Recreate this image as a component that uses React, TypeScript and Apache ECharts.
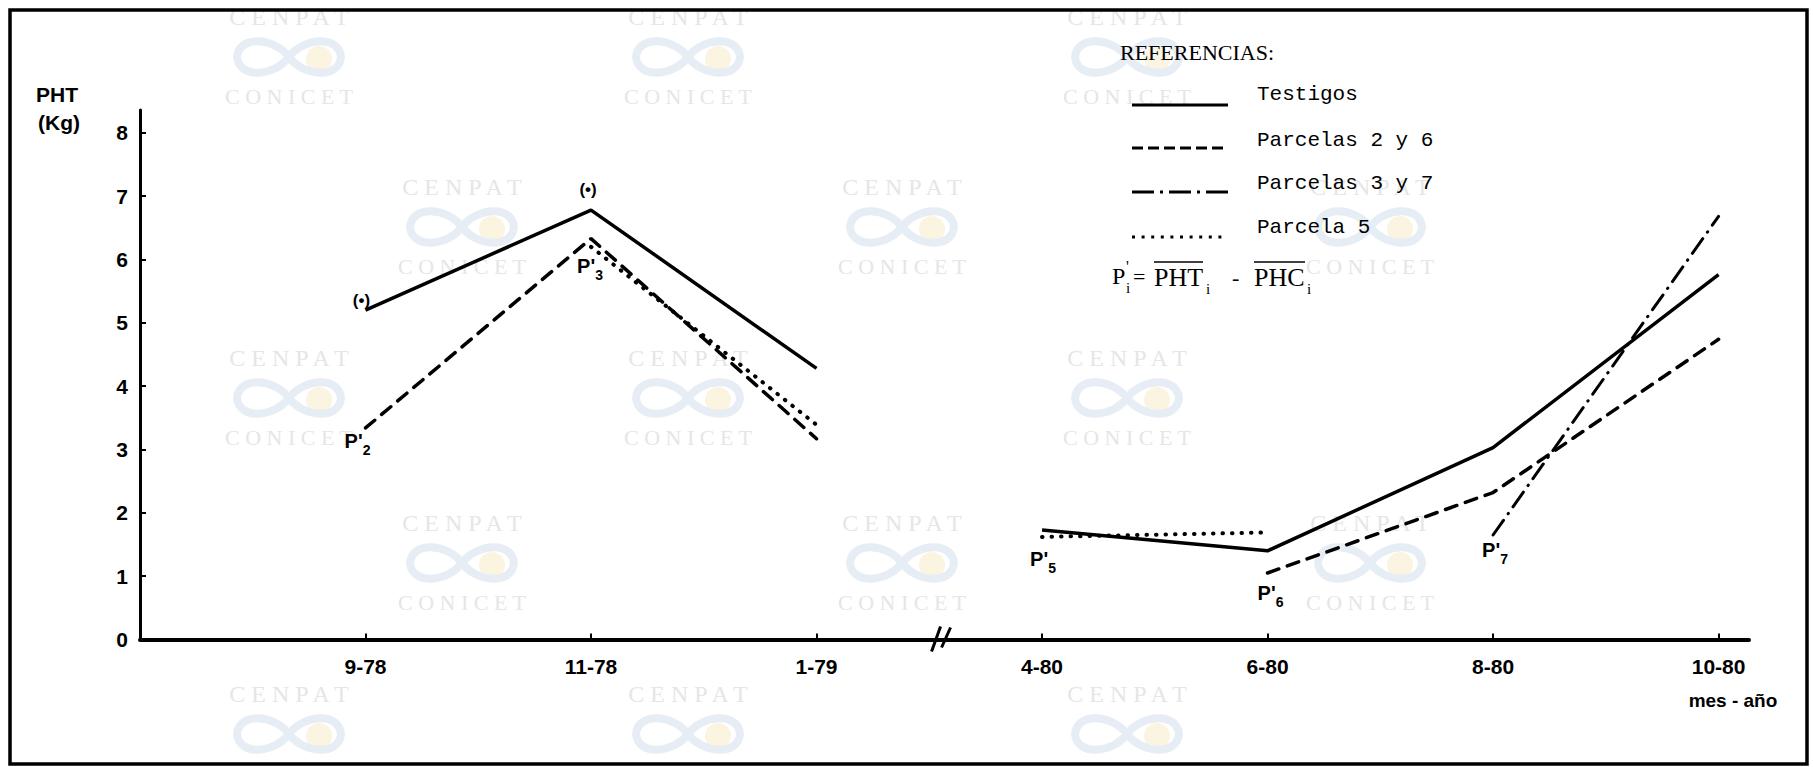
import React, { useEffect, useRef } from 'react';
import * as echarts from 'echarts';

// ---------- data ----------
const categories = ['9-78', '11-78', '1-79', '4-80', '6-80', '8-80', '10-80'];
const yTickValues = [0, 1, 2, 3, 4, 5, 6, 7, 8];
const breakAfter = 2; // axis break between 1-79 and 4-80
const seriesNames = ['Testigos', 'Parcelas 2 y 6', 'Parcelas 3 y 7', 'Parcela 5'];
const testigos = [5.2, 6.78, 4.28, 1.73, 1.4, 3.03, 5.76];
const parcelas2y6 = [3.34, 6.33, 3.17, null, 1.05, 2.32, 4.74];
const parcelas3y7 = [null, null, null, null, null, 1.65, 6.68];
const parcela5 = [null, 6.2, 3.39, 1.62, 1.69, null, null];
const seriesValues = [testigos, parcelas2y6, parcelas3y7, parcela5];

// point annotations (series index, category index, text)
const pointNotes = [
  { series: 0, index: 0, text: '{d|(•)}', position: 'top', distance: 1, offset: [-4, 0] },
  { series: 0, index: 1, text: '{d|(•)}', position: 'top', distance: 12, offset: [-3, 0] },
  { series: 1, index: 0, text: "{p|P'}{s|2}", position: 'bottom', distance: 3, offset: [-8, 0] },
  { series: 1, index: 1, text: "{p|P'}{s|3}", position: 'bottom', distance: 17, offset: [-1, 0] },
  { series: 3, index: 3, text: "{p|P'}{s|5}", position: 'bottom', distance: 12, offset: [1, 0] },
  { series: 1, index: 4, text: "{p|P'}{s|6}", position: 'bottom', distance: 10, offset: [3, 0] },
  { series: 2, index: 5, text: "{p|P'}{s|7}", position: 'bottom', distance: 5, offset: [2, 0] },
];

const SANS = '"Liberation Sans", Arial, sans-serif';
const SERIF = '"Liberation Serif", "Times New Roman", serif';
const MONO = '"Liberation Mono", "Courier New", monospace';

const rich = {
  d: { fontSize: 17, fontWeight: 'bold', fontFamily: SANS, color: '#000' },
  p: { fontSize: 20, fontWeight: 'bold', fontFamily: SANS, color: '#000', lineHeight: 20, verticalAlign: 'top' },
  s: { fontSize: 14, fontWeight: 'bold', fontFamily: SANS, color: '#000', lineHeight: 14, padding: [12, 0, 0, 0], verticalAlign: 'top' },
};

const lineStyles: any[] = [
  { type: 'solid', width: 3.5 },
  { type: [12, 9], width: 3.5, cap: 'round' },
  { type: [18, 8, 0.5, 8], width: 3, cap: 'round' },
  { type: [0.5, 9], width: 4, cap: 'round' },
];

function buildData(values: (number | null)[], sIdx: number) {
  const out: any[] = [];
  values.forEach((v, i) => {
    if (i === breakAfter + 1) out.push({ value: [breakAfter + 0.5, null] });
    const item: any = { value: [i, v] };
    const note = pointNotes.find((n) => n.series === sIdx && n.index === i);
    if (note && v != null) {
      item.label = {
        show: true,
        formatter: note.text,
        position: note.position,
        distance: note.distance,
        offset: note.offset,
        rich,
      };
    }
    out.push(item);
  });
  return out;
}

// watermark grid
const wmRows = [
  { top: 17, cols: [289, 688, 1127] },
  { top: 187, cols: [462, 902, 1370] },
  { top: 358, cols: [289, 688, 1127] },
  { top: 523, cols: [462, 902, 1370] },
  { top: 694, cols: [289, 688, 1127] },
];

const logoPath =
  'M60,20 C45,0 10,-2 8,20 C10,42 45,40 60,20 C75,0 110,-2 112,20 C110,42 75,40 60,20 Z';

let registered = false;

export default function App() {
  const ref = useRef<HTMLDivElement>(null);

  useEffect(() => {
    document.body.style.margin = '0';
    if (!registered) {
      echarts.graphic.registerShape('logo', echarts.graphic.extendPath(logoPath, {}) as any);
      registered = true;
    }
    const chart = echarts.init(ref.current!, null, { renderer: 'svg' });

    const graphics: any[] = [];
    // watermarks
    wmRows.forEach((row, r) => {
      row.cols.forEach((cx, c) => {
        const id = `wm${r}_${c}`;
        graphics.push({
          type: 'text', id: id + 'a', z: 0, silent: true,
          style: { text: 'C E N P A T', x: cx, y: row.top, fill: '#e6e6e6', font: `24px ${SERIF}`, textAlign: 'center', textVerticalAlign: 'middle' },
        });
        graphics.push({
          type: 'circle', id: id + 's', z: 0, silent: true,
          shape: { cx: cx + 30, cy: row.top + 42, r: 13 },
          style: { fill: '#faf4e0' },
        });
        graphics.push({
          type: 'logo', id: id + 'l', z: 0, silent: true,
          x: cx - 60, y: row.top + 20,
          style: { fill: 'none', stroke: '#e6edf5', lineWidth: 8 },
        });
        if (row.top + 79 < 750) {
          graphics.push({
            type: 'text', id: id + 'b', z: 0, silent: true,
            style: { text: 'C O N I C E T', x: cx, y: row.top + 79, fill: '#e6e6e6', font: `22px ${SERIF}`, textAlign: 'center', textVerticalAlign: 'middle' },
          });
        }
      });
    });

    // frame
    graphics.push({
      type: 'rect', id: 'frame', z: 5, silent: true,
      shape: { x: 10, y: 10, width: 1797, height: 754 },
      style: { fill: 'none', stroke: '#000', lineWidth: 3.5 },
    });

    // axis names
    graphics.push({ type: 'text', id: 'yn1', z: 5, style: { text: 'PHT', x: 36, y: 94, fill: '#000', font: `bold 21px ${SANS}`, textAlign: 'left', textVerticalAlign: 'middle' } });
    graphics.push({ type: 'text', id: 'yn2', z: 5, style: { text: '(Kg)', x: 38, y: 122, fill: '#000', font: `bold 21px ${SANS}`, textAlign: 'left', textVerticalAlign: 'middle' } });
    graphics.push({ type: 'text', id: 'xn', z: 5, style: { text: 'mes - año', x: 1733, y: 700, fill: '#000', font: `bold 19px ${SANS}`, textAlign: 'center', textVerticalAlign: 'middle' } });

    // legend
    graphics.push({ type: 'text', id: 'lgT', z: 5, style: { text: 'REFERENCIAS:', x: 1120, y: 52, fill: '#000', font: `22px ${SERIF}`, textAlign: 'left', textVerticalAlign: 'middle' } });
    const legendRows = [
      { ty: 94, ly: 105, dash: null as any, w: 3 },
      { ty: 140, ly: 148, dash: [11, 5], w: 3 },
      { ty: 183, ly: 192, dash: [22, 6, 3, 6], w: 3 },
      { ty: 227, ly: 237, dash: [3, 6.6], w: 3 },
    ];
    legendRows.forEach((lr, i) => {
      graphics.push({
        type: 'line', id: 'lgl' + i, z: 5, silent: true,
        shape: { x1: 1132, y1: lr.ly, x2: 1228, y2: lr.ly },
        style: { stroke: '#000', lineWidth: lr.w, lineDash: lr.dash || undefined },
      });
      graphics.push({
        type: 'text', id: 'lgt' + i, z: 5,
        style: { text: seriesNames[i], x: 1257, y: lr.ty, fill: '#000', font: `21px ${MONO}`, textAlign: 'left', textVerticalAlign: 'middle' },
      });
    });

    // formula P'i = PHTi - PHCi
    const ft = (id: string, text: string, x: number, y: number, size: number) => ({
      type: 'text', id, z: 5,
      style: { text, x, y, fill: '#000', font: `${size}px ${SERIF}`, textAlign: 'left', textVerticalAlign: 'middle' },
    });
    graphics.push(ft('f1', 'P', 1112, 276, 24));
    graphics.push(ft('f2', "'", 1126, 266, 16));
    graphics.push(ft('f3', 'i', 1126, 288, 15));
    graphics.push(ft('f4', '=', 1133, 276, 22));
    graphics.push(ft('f5', 'PHT', 1154, 277, 26));
    graphics.push(ft('f6', 'i', 1206, 289, 15));
    graphics.push(ft('f7', '-', 1232, 277, 22));
    graphics.push(ft('f8', 'PHC', 1254, 277, 26));
    graphics.push(ft('f9', 'i', 1307, 289, 15));
    graphics.push({ type: 'line', id: 'fo1', z: 5, shape: { x1: 1154, y1: 262, x2: 1203, y2: 262 }, style: { stroke: '#000', lineWidth: 1.5 } });
    graphics.push({ type: 'line', id: 'fo2', z: 5, shape: { x1: 1254, y1: 262, x2: 1305, y2: 262 }, style: { stroke: '#000', lineWidth: 1.5 } });

    const option: any = {
      animation: false,
      backgroundColor: '#fff',
      textStyle: { color: '#000', fontFamily: SANS },
      grid: { left: 140, right: 64, top: 110, bottom: 127.5, containLabel: false, outerBoundsMode: 'none' },
      xAxis: {
        type: 'value',
        min: -1,
        max: 6.135,
        axisLine: { show: true, onZero: false, lineStyle: { color: '#000', width: 4 } },
        axisTick: { show: true, inside: true, length: 6, customValues: categories.map((_, i) => i), lineStyle: { color: '#000', width: 2 } },
        axisLabel: {
          show: true,
          customValues: categories.map((_, i) => i),
          formatter: (v: number) => categories[Math.round(v)] ?? '',
          margin: 16,
          fontSize: 21,
          fontWeight: 'bold',
          fontFamily: SANS,
          color: '#000',
        },
        splitLine: { show: false },
      },
      yAxis: {
        type: 'value',
        min: 0,
        max: 8.36,
        axisLine: { show: true, onZero: false, lineStyle: { color: '#000', width: 3 } },
        axisTick: { show: true, inside: true, length: 6, customValues: yTickValues, lineStyle: { color: '#000', width: 2 } },
        axisLabel: {
          show: true,
          customValues: yTickValues,
          formatter: (v: number) => String(v),
          margin: 12,
          fontSize: 21,
          fontWeight: 'bold',
          fontFamily: SANS,
          color: '#000',
        },
        splitLine: { show: false },
      },
      series: seriesValues.map((vals, i) => ({
        type: 'line',
        name: seriesNames[i],
        data: buildData(vals, i),
        symbol: 'circle',
        symbolSize: 0,
        showSymbol: true,
        showAllSymbol: true,
        connectNulls: false,
        silent: true,
        z: 3,
        itemStyle: { color: '#000' },
        lineStyle: { color: '#000', ...lineStyles[i] },
      })),
      graphic: { elements: graphics },
    };

    chart.setOption(option);

    // axis break mark "//"
    const p = chart.convertToPixel({ xAxisIndex: 0, yAxisIndex: 0 }, [breakAfter + 0.55, 0]) as number[];
    if (p) {
      const [bx, by] = p;
      chart.setOption({
        graphic: {
          elements: [
            ...graphics,
            { type: 'line', id: 'br1', z: 6, shape: { x1: bx - 9, y1: by + 12, x2: bx, y2: by - 13 }, style: { stroke: '#000', lineWidth: 3 } },
            { type: 'line', id: 'br2', z: 6, shape: { x1: bx + 1, y1: by + 8, x2: bx + 10, y2: by - 12 }, style: { stroke: '#000', lineWidth: 3 } },
          ],
        },
      });
    }

    return () => chart.dispose();
  }, []);

  return <div ref={ref} style={{ width: 1813, height: 767, background: '#fff' }} />;
}
